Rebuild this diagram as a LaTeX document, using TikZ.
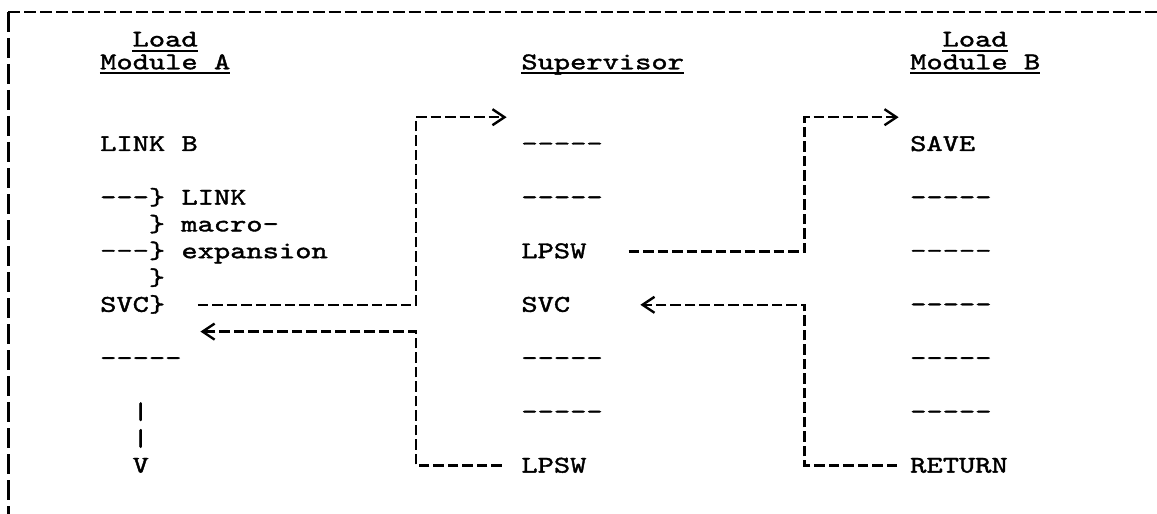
\documentclass[tikz,border=0pt]{standalone}
\usepackage{fontspec}
\setmonofont[FakeStretch=1.29,FakeBold=1.6]{lmmono10-regular.otf}
\usetikzlibrary{arrows.meta}

\begin{document}
\begin{tikzpicture}[x=16.2pt,y=-26.8pt,
  txt/.style={font=\ttfamily\fontsize{24}{24}\selectfont,anchor=west,inner sep=0pt,text height=14pt,text depth=0pt},
  link/.style={line width=2.6pt,dash pattern=on 10.5pt off 4pt},
  tip/.style={-{Straight Barb[length=12pt,width=16pt,line width=2.4pt]}},
  uline/.style={line width=2pt}]
  \useasboundingbox (-100pt,144pt) rectangle (1057pt,-370pt);
  % frame
  \coordinate (corner) at (-91.5pt,132pt);
  \draw[line width=2.6pt,dash pattern=on 12pt off 4pt] (corner) -- (1057pt,132pt);
  \draw[line width=2.6pt,dash pattern=on 20pt off 6pt] (corner) -- (-91.5pt,-370pt);
  % headings
  \node[txt] (loadA) at (2,-3.9) {Load};
  \node[txt] (modA) at (0,-3.05) {Module A};
  \node[txt] (super) at (26,-3.05) {Supervisor};
  \node[txt] (loadB) at (52,-3.9) {Load};
  \node[txt] (modB) at (50,-3.05) {Module B};
  \foreach \n in {loadA,modA,super,loadB,modB}
    \draw[uline] ([yshift=-4pt]\n.south west) -- ([yshift=-4pt]\n.south east);
  % load module A
  \node[txt] (linkB) at (0,0) {LINK B};
  \node[txt] (macA1) at (0,2) {-{}-{}-\} LINK};
  \node[txt] (macA2) at (3,3) {\} macro-};
  \node[txt] (macA3) at (0,4) {-{}-{}-\} expansion};
  \node[txt] (macA4) at (3,5) {\}};
  \node[txt] (svcA) at (0,6) {SVC\}};
  \node[txt] (nxtA) at (0,8) {-{}-{}-{}-{}-};
  \node[txt] (barA1) at (2,10) {|};
  \node[txt] (barA2) at (2,11) {|};
  \node[txt] (vA) at (2,12) {V};
  % supervisor
  \foreach \r in {0,2,8,10}
    \node[txt] (sup\r) at (26,\r) {-{}-{}-{}-{}-};
  \node[txt] (lpswS) at (26,4) {LPSW};
  \node[txt] (svcS) at (26,6) {SVC};
  \node[txt] (lpswR) at (26,12) {LPSW};
  % load module B
  \node[txt] (save) at (50,0) {SAVE};
  \foreach \r in {2,4,...,10}
    \node[txt] (modB\r) at (50,\r) {-{}-{}-{}-{}-};
  \node[txt] (ret) at (50,12) {RETURN};
  % control flow
  \coordinate (entS) at (25.1,-1);
  \coordinate (entB) at (49.3,-1);
  \coordinate (backA) at (6.2,7);
  \draw[link,tip] (svcA.east) ++(2,0) -| (19.5,-1) -- (entS);
  \draw[link,tip] (lpswR.west) ++(-1.2,0) -| (19.5,7) -- (backA);
  \draw[link,tip] (lpswS.east) ++(2.6,0) -| (43.5,-1) -- (entB);
  \draw[link,tip] (ret.west) ++(-0.8,0) -| (43.5,6) -- ([xshift=70pt]svcS.east);
\end{tikzpicture}
\end{document}
